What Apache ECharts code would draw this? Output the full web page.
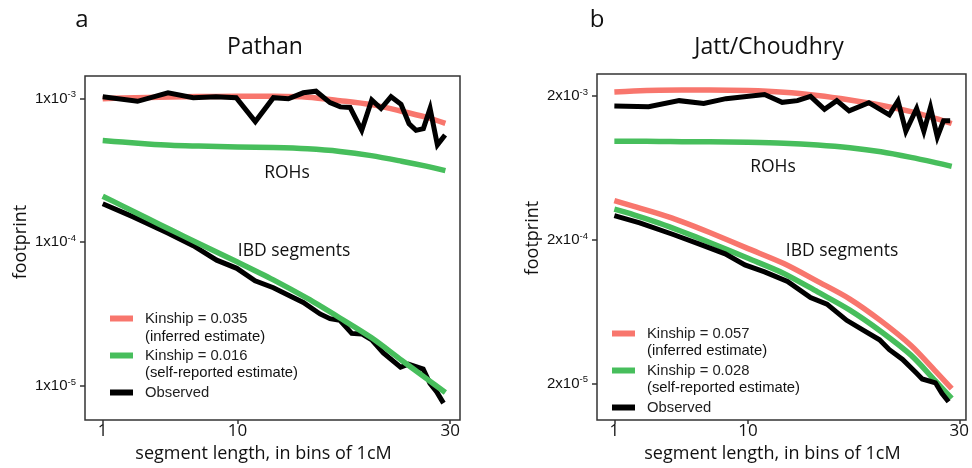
<!DOCTYPE html>
<html>
<head>
<meta charset="utf-8">
<title>footprint</title>
<script src="https://cdn.jsdelivr.net/npm/echarts@6/dist/echarts.min.js"></script>
<style>
  html, body { margin: 0; height: 100%; background: #fff; }
</style>
</head>
<body>
<div id="main" style="width:972px;height:468px;"></div>
<script type="text/javascript">
var XPOW = 0.76;
var xTicks = [1, 10, 30];

// ---- panel a: Pathan ----
var xModelA = [1, 2, 3.5, 5, 7, 10, 13, 16, 19, 22, 25, 27.5, 29.5];
var rohInfA = [0.995e-3, 1.005e-3, 1.015e-3, 1.022e-3, 1.03e-3, 1.037e-3, 1.035e-3, 1.02e-3, 0.965e-3, 0.905e-3, 0.815e-3, 0.74e-3, 0.67e-3];
var rohSelfA = [0.51e-3, 0.497e-3, 0.482e-3, 0.472e-3, 0.466e-3, 0.459e-3, 0.455e-3, 0.446e-3, 0.428e-3, 0.40e-3, 0.366e-3, 0.338e-3, 0.315e-3];
var ibdSelfA = [2.09e-4, 1.79e-4, 1.46e-4, 1.22e-4, 9.8e-5, 7.28e-5, 5.47e-5, 4.06e-5, 2.97e-5, 2.17e-5, 1.51e-5, 1.13e-5, 9.0e-6];

var rohObsXA = [1, 2.87, 4.82, 6.6, 8.31, 9.9, 11.47, 13, 14.3, 15.63, 16.78, 18.07, 19.04, 19.96, 21.08, 22.05, 22.96, 23.95, 24.95, 25.76, 26.47, 27.22, 27.91, 28.67, 29.47];
var rohObsA = [1.028e-3, 0.955e-3, 1.094e-3, 1.012e-3, 1.028e-3, 1.012e-3, 0.69e-3, 1.012e-3, 0.995e-3, 1.094e-3, 1.122e-3, 0.935e-3, 0.873e-3, 0.865e-3, 0.60e-3, 0.975e-3, 0.851e-3, 1.028e-3, 0.91e-3, 0.667e-3, 0.60e-3, 0.617e-3, 0.851e-3, 0.475e-3, 0.556e-3];
var ibdObsXA = [1, 2.62, 4.8, 6.6, 8.36, 9.95, 11.45, 13, 14.45, 15.63, 17.15, 18.07, 19, 20.12, 21.08, 22.05, 23.19, 24.9, 25.7, 27.2, 27.9, 28.6, 29.3];
var ibdObsA = [1.85e-4, 1.50e-4, 1.16e-4, 9.46e-5, 7.5e-5, 6.58e-5, 5.39e-5, 4.82e-5, 4.23e-5, 3.81e-5, 3.17e-5, 2.94e-5, 2.86e-5, 2.32e-5, 2.30e-5, 2.09e-5, 1.70e-5, 1.35e-5, 1.42e-5, 1.31e-5, 1.04e-5, 9.1e-6, 7.6e-6];

// ---- panel b: Jatt/Choudhry ----
var xModelB = [1, 2, 3.5, 5, 7, 10, 13, 16, 19, 22, 25, 27.5, 29.2];
var rohInfB = [2.14e-3, 2.17e-3, 2.20e-3, 2.21e-3, 2.21e-3, 2.19e-3, 2.13e-3, 2.02e-3, 1.88e-3, 1.73e-3, 1.56e-3, 1.40e-3, 1.29e-3];
var rohSelfB = [9.7e-4, 9.7e-4, 9.68e-4, 9.65e-4, 9.62e-4, 9.55e-4, 9.42e-4, 9.15e-4, 8.75e-4, 8.2e-4, 7.5e-4, 6.9e-4, 6.5e-4];
var ibdInfB = [3.75e-4, 3.42e-4, 3.03e-4, 2.68e-4, 2.25e-4, 1.74e-4, 1.37e-4, 1.03e-4, 7.76e-5, 5.47e-5, 3.69e-5, 2.45e-5, 1.85e-5];
var ibdSelfB = [3.27e-4, 2.99e-4, 2.62e-4, 2.29e-4, 1.92e-4, 1.49e-4, 1.17e-4, 8.7e-5, 6.5e-5, 4.62e-5, 3.16e-5, 2.09e-5, 1.58e-5];

var rohObsXB = [1, 2.85, 4.82, 6.56, 8.24, 11.36, 12.86, 14.19, 15.36, 16.63, 17.77, 18.93, 20.82, 22.83, 23.69, 24.48, 25.57, 26.31, 26.99, 27.7, 28.35, 29.04];
var rohObsB = [1.71e-3, 1.69e-3, 1.86e-3, 1.78e-3, 1.92e-3, 2.05e-3, 1.81e-3, 1.86e-3, 1.99e-3, 1.62e-3, 1.86e-3, 1.58e-3, 1.80e-3, 1.48e-3, 1.85e-3, 1.14e-3, 1.64e-3, 1.14e-3, 1.67e-3, 1.04e-3, 1.35e-3, 1.35e-3];
var ibdObsXB = [1, 2.33, 4.37, 6.2, 8.18, 9.74, 11.36, 13.32, 15.36, 16.86, 18.7, 20.27, 21.86, 22.83, 24.15, 25.47, 26.14, 27.5, 28.19, 28.87];
var ibdObsB = [2.95e-4, 2.63e-4, 2.19e-4, 1.88e-4, 1.60e-4, 1.34e-4, 1.20e-4, 1.03e-4, 7.94e-5, 7.16e-5, 5.52e-5, 4.72e-5, 4.04e-5, 3.45e-5, 2.95e-5, 2.40e-5, 2.16e-5, 2.03e-5, 1.71e-5, 1.50e-5];

var yTicksA = [1e-5, 1e-4, 1e-3];
var yTicksB = [2e-5, 2e-4, 2e-3];
var yRangeA = [5.79e-6, 1.432e-3];
var yRangeB = [1.117e-5, 2.85e-3];

var RED = '#F8766D', GREEN = '#47BE5C', BLACK = '#000000';
var SANS = '"Open Sans", "Noto Sans", sans-serif';
var HELV = '"Liberation Sans", Arial, sans-serif';

function fx(x) { return Math.pow(x, XPOW); }
function pts(xs, ys) {
    return xs.map(function (x, i) { return [fx(x), Math.log10(ys[i])]; });
}

function line(name, xs, ys, color, w, idx, smooth, z) {
    return {
        type: 'line', name: name,
        xAxisIndex: idx, yAxisIndex: idx,
        data: pts(xs, ys),
        showSymbol: false, symbol: 'none',
        smooth: smooth ? 0.3 : false,
        lineStyle: { color: color, width: w, cap: 'butt', join: smooth ? 'round' : 'miter' },
        itemStyle: { color: color },
        z: z
    };
}

function xAxis(idx, min, max) {
    var tv = xTicks.map(fx);
    return {
        type: 'value', gridIndex: idx, min: min, max: max,
        axisLine: { show: false },
        splitLine: { show: false },
        axisTick: { show: true, customValues: tv, length: 4, lineStyle: { color: '#333', width: 1.5 } },
        axisLabel: {
            customValues: tv, margin: 3,
            fontSize: 17, fontFamily: SANS, color: '#111',
            formatter: function (v) { return String(Math.round(Math.pow(v, 1 / XPOW))); }
        },
        name: 'segment length, in bins of 1cM',
        nameLocation: 'middle', nameGap: 18,
        nameTextStyle: { fontSize: 18, fontFamily: SANS, color: '#111', padding: [0, 18, 0, 0] }
    };
}

function yAxis(idx, range, ticks, lead, namePad) {
    var tv = ticks.map(function (t) { return Math.log10(t); });
    return {
        type: 'value', gridIndex: idx,
        min: Math.log10(range[0]), max: Math.log10(range[1]),
        axisLine: { show: false },
        splitLine: { show: false },
        axisTick: { show: true, customValues: tv, length: 5, lineStyle: { color: '#333', width: 1.5 } },
        axisLabel: {
            customValues: tv, margin: 9,
            formatter: function (v) {
                var e = Math.round(v - Math.log10(lead));
                return '{m|' + lead + 'x10}{s|' + e + '}';
            },
            rich: {
                m: { fontSize: 15, fontFamily: HELV, color: '#111', lineHeight: 18 },
                s: { fontSize: 9.5, fontFamily: HELV, color: '#111', verticalAlign: 'top', lineHeight: 18, padding: [0, 0, 7, 0] }
            }
        },
        name: 'footprint', nameLocation: 'middle', nameGap: 55,
        nameTextStyle: { fontSize: 18, fontFamily: SANS, color: '#111', padding: [0, 0, 0, namePad] }
    };
}

function legend(names, left, top) {
    return {
        data: names, orient: 'vertical', left: left, top: top, padding: 0,
        icon: 'rect', itemWidth: 23, itemHeight: 6, itemGap: 20,
        textStyle: { fontSize: 14.8, fontFamily: HELV, color: '#222', lineHeight: 17, padding: [0, 0, 0, 7] }
    };
}

function txt(s, x, y, size, font, align) {
    return {
        type: 'text', x: x, y: y,
        style: { text: s, fontSize: size, fontFamily: font, fill: '#111', align: align || 'center', verticalAlign: 'middle' }
    };
}

var myChart = echarts.init(document.getElementById('main'));
var option = {
    animation: false,
    backgroundColor: '#fff',
    grid: [
        { left: 85, top: 76, width: 375, height: 353, show: true, borderColor: '#333', borderWidth: 1.5 },
        { left: 597, top: 74, width: 374, height: 355, show: true, borderColor: '#333', borderWidth: 1.5 }
    ],
    xAxis: [xAxis(0, 0.375, 13.61), xAxis(1, 0.383, 13.5)],
    yAxis: [yAxis(0, yRangeA, yTicksA, 1, 12), yAxis(1, yRangeB, yTicksB, 2, 18)],
    legend: [
        legend(['Kinship = 0.035', 'Kinship = 0.016', 'Observed'], 110, 310),
        legend(['Kinship = 0.057', 'Kinship = 0.028', 'Observed'], 612, 325)
    ],
    graphic: [
        txt('a', 82, 20, 24, SANS),
        txt('Pathan', 265, 47, 23, SANS),
        txt('b', 597, 20, 24, SANS),
        txt('Jatt/Choudhry', 769, 47, 23, SANS),
        txt('ROHs', 287, 173, 17.5, SANS),
        txt('IBD segments', 294, 251, 17.5, SANS),
        txt('ROHs', 773, 167, 17.5, SANS),
        txt('IBD segments', 842, 251, 17.5, SANS),
        txt('(inferred estimate)', 145, 337, 14.8, HELV, 'left'),
        txt('(self-reported estimate)', 145, 373, 14.8, HELV, 'left'),
        txt('(inferred estimate)', 647, 351, 14.8, HELV, 'left'),
        txt('(self-reported estimate)', 647, 388, 14.8, HELV, 'left')
    ],
    series: [
        line('Kinship = 0.035', xModelA, rohInfA, RED, 5.5, 0, true, 2),
        line('Kinship = 0.016', xModelA, rohSelfA, GREEN, 5.5, 0, true, 2),
        line('Observed', rohObsXA, rohObsA, BLACK, 5, 0, false, 3),
        line('Observed', ibdObsXA, ibdObsA, BLACK, 5, 0, false, 3),
        line('Kinship = 0.016', xModelA, ibdSelfA, GREEN, 5.5, 0, true, 4),

        line('Kinship = 0.057', xModelB, rohInfB, RED, 5.5, 1, true, 2),
        line('Kinship = 0.028', xModelB, rohSelfB, GREEN, 5.5, 1, true, 2),
        line('Kinship = 0.057', xModelB, ibdInfB, RED, 5.5, 1, true, 2),
        line('Kinship = 0.028', xModelB, ibdSelfB, GREEN, 5.5, 1, true, 2),
        line('Observed', rohObsXB, rohObsB, BLACK, 5, 1, false, 3),
        line('Observed', ibdObsXB, ibdObsB, BLACK, 5, 1, false, 3)
    ]
};
myChart.setOption(option);
</script>
</body>
</html>
